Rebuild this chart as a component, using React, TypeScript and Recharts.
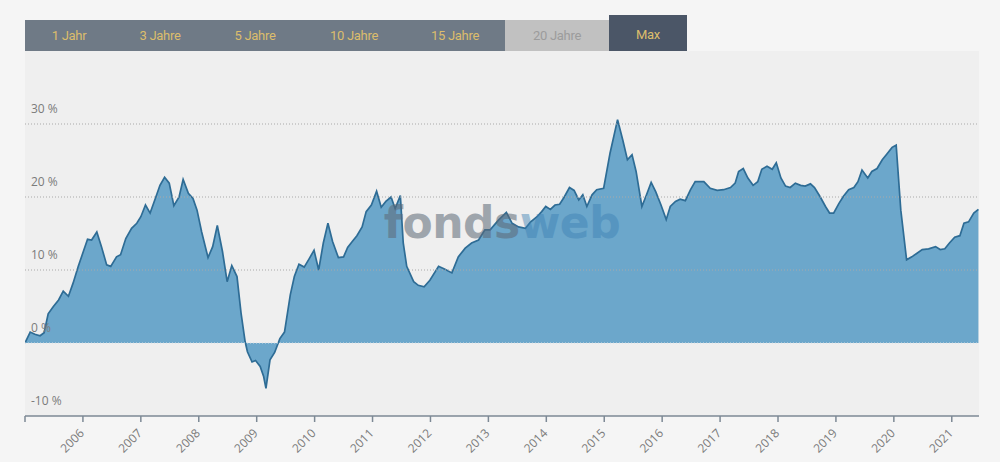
import React from "react";
import { AreaChart, Area, XAxis, YAxis, ReferenceLine, CartesianGrid } from "recharts";

// Decimal-year positions of the plotted points
const dates = [
  2005.0, 2005.09, 2005.17, 2005.26, 2005.33, 2005.4, 2005.49, 2005.58, 2005.66, 2005.75, 2005.83, 2005.92,
  2006.01, 2006.08, 2006.15, 2006.24, 2006.32, 2006.41, 2006.48, 2006.58, 2006.65, 2006.74, 2006.84, 2006.93,
  2007.0, 2007.08, 2007.16, 2007.25, 2007.33, 2007.41, 2007.49, 2007.57, 2007.66, 2007.73, 2007.82, 2007.9, 2007.97,
  2008.05, 2008.16, 2008.24, 2008.32, 2008.41, 2008.49, 2008.57, 2008.66, 2008.73, 2008.8, 2008.84, 2008.92, 2008.98,
  2009.06, 2009.12, 2009.16, 2009.23, 2009.31, 2009.4, 2009.48, 2009.58, 2009.65, 2009.73, 2009.82, 2009.91, 2009.99,
  2010.07, 2010.15, 2010.23, 2010.31, 2010.41, 2010.5, 2010.57, 2010.65, 2010.73, 2010.82, 2010.89, 2010.98,
  2011.07, 2011.15, 2011.23, 2011.32, 2011.39, 2011.48, 2011.53, 2011.59, 2011.71, 2011.79, 2011.89, 2011.99,
  2012.14, 2012.25, 2012.37, 2012.48, 2012.6, 2012.71, 2012.83, 2012.94,
  2013.03, 2013.17, 2013.31, 2013.41, 2013.52, 2013.64, 2013.73, 2013.84, 2013.92, 2013.99,
  2014.07, 2014.15, 2014.23, 2014.31, 2014.4, 2014.48, 2014.56, 2014.63, 2014.7, 2014.79, 2014.87, 2014.99,
  2015.1, 2015.23, 2015.32, 2015.4, 2015.48, 2015.55, 2015.65, 2015.73, 2015.81, 2015.89, 2015.98,
  2016.07, 2016.14, 2016.23, 2016.31, 2016.4, 2016.49, 2016.57, 2016.72, 2016.83, 2016.95,
  2017.06, 2017.18, 2017.26, 2017.32, 2017.4, 2017.48, 2017.57, 2017.65, 2017.72, 2017.81, 2017.9, 2017.97,
  2018.05, 2018.13, 2018.21, 2018.3, 2018.39, 2018.47, 2018.56, 2018.63, 2018.73, 2018.82, 2018.89, 2018.96,
  2019.05, 2019.13, 2019.22, 2019.31, 2019.38, 2019.45, 2019.55, 2019.62, 2019.71, 2019.8, 2019.88, 2019.97,
  2020.04, 2020.12, 2020.22, 2020.31, 2020.4, 2020.49, 2020.6, 2020.72, 2020.8, 2020.88, 2020.96,
  2021.05, 2021.14, 2021.21, 2021.29, 2021.38, 2021.46,
];

// Cumulative performance in percent
const returns = [
  0.0, 1.5, 1.2, 1.0, 1.4, 4.0, 5.0, 5.9, 7.1, 6.4, 8.2, 10.5,
  12.6, 14.2, 14.1, 15.2, 13.2, 10.7, 10.5, 11.8, 12.1, 14.3, 15.7, 16.4,
  17.3, 18.9, 17.8, 19.8, 21.6, 22.7, 21.9, 18.8, 20.0, 22.4, 20.5, 19.8, 18.2,
  15.2, 11.7, 13.2, 16.1, 12.5, 8.4, 10.6, 9.1, 4.1, 0.2, -1.2, -2.6, -2.4,
  -3.2, -4.6, -6.2, -2.3, -1.3, 0.6, 1.5, 6.6, 9.1, 10.8, 10.4, 11.6, 12.7,
  10.0, 13.7, 16.4, 13.9, 11.7, 11.8, 13.1, 13.9, 14.7, 15.9, 18.0, 18.9,
  20.8, 18.6, 19.4, 20.0, 18.4, 20.2, 13.7, 10.5, 8.4, 7.9, 7.7, 8.6,
  10.5, 10.1, 9.6, 11.8, 13.0, 13.7, 14.1, 15.5,
  15.5, 16.8, 17.9, 16.4, 15.9, 15.7, 16.6, 17.3, 18.0, 18.7,
  18.3, 18.9, 19.0, 20.0, 21.3, 20.9, 19.6, 20.3, 18.7, 20.3, 21.0, 21.2,
  26.0, 30.6, 27.8, 25.1, 25.8, 23.5, 18.7, 20.3, 22.0, 20.7, 18.9,
  16.9, 18.7, 19.4, 19.7, 19.5, 21.0, 22.1, 22.1, 21.2, 20.9,
  21.0, 21.3, 21.9, 23.5, 23.9, 22.6, 21.6, 22.1, 23.8, 24.2, 23.8, 24.7,
  22.6, 21.5, 21.3, 21.9, 21.6, 21.5, 21.8, 21.3, 20.0, 18.7, 17.8, 17.8,
  19.1, 20.1, 21.0, 21.3, 22.1, 23.7, 22.6, 23.5, 23.9, 25.1, 25.9, 26.8,
  27.1, 18.2, 11.4, 11.8, 12.3, 12.8, 12.9, 13.2, 12.8, 12.9, 13.7,
  14.5, 14.7, 16.4, 16.6, 17.8, 18.3,
];

const yearTicks = [2005, 2006, 2007, 2008, 2009, 2010, 2011, 2012, 2013, 2014, 2015, 2016, 2017, 2018, 2019, 2020, 2021];
const percentTicks = [-10, 0, 10, 20, 30];
const periodButtons = ["1 Jahr", "3 Jahre", "5 Jahre", "10 Jahre", "15 Jahre", "20 Jahre", "Max"];

const data = dates.map((t, i) => ({ t, v: returns[i] }));

const XTick = (props: any) => {
  const { x, y, payload } = props;
  if (payload.value === 2005) return null;
  return (
    <text
      transform={`translate(${x + 2},${y + 10}) rotate(-45)`}
      textAnchor="end"
      fill="#7b7b7b"
      fontSize={12}
      fontFamily="'Open Sans', sans-serif"
    >
      {payload.value}
    </text>
  );
};

const makeYLabel = (v: number) => (props: any) => {
  const vb = props.viewBox || {};
  return (
    <text x={(vb.x ?? 25) + 6} y={(vb.y ?? 0) - 11} fill="#7b7b7b" fontSize={12} fontFamily="'Open Sans', sans-serif">
      {v} %
    </text>
  );
};

const buttonStyles: { left: number; width: number; bg: string; color: string; top: number; height: number }[] = [
  { left: 25, width: 88, bg: "#6f7a86", color: "#dcbd6c", top: 20, height: 31 },
  { left: 113, width: 94, bg: "#6f7a86", color: "#dcbd6c", top: 20, height: 31 },
  { left: 207, width: 96, bg: "#6f7a86", color: "#dcbd6c", top: 20, height: 31 },
  { left: 303, width: 102, bg: "#6f7a86", color: "#dcbd6c", top: 20, height: 31 },
  { left: 405, width: 100, bg: "#6f7a86", color: "#dcbd6c", top: 20, height: 31 },
  { left: 505, width: 104, bg: "#c1c1c1", color: "#9c9c9c", top: 20, height: 31 },
  { left: 609, width: 78, bg: "#4b5667", color: "#dcbd6c", top: 15, height: 36 },
];

export default function App() {
  return (
    <div
      style={{
        position: "absolute",
        left: 0,
        top: 0,
        width: 1000,
        height: 462,
        background: "#f5f5f5",
        overflow: "hidden",
      }}
    >
      {periodButtons.map((label, i) => {
        const b = buttonStyles[i];
        return (
          <div
            key={label}
            style={{
              position: "absolute",
              left: b.left,
              top: b.top,
              width: b.width,
              height: b.height,
              background: b.bg,
              color: b.color,
              fontFamily: "Roboto, sans-serif",
              fontSize: 13,
              letterSpacing: -0.3,
              display: "flex",
              alignItems: "center",
              justifyContent: "center",
              paddingTop: i === 6 ? 2 : 0,
              boxSizing: "border-box",
            }}
          >
            {label}
          </div>
        );
      })}
      <div style={{ position: "absolute", left: 0, top: 0 }}>
        <AreaChart width={1000} height={462} data={data} margin={{ top: 51, right: 21, left: 25, bottom: 0 }}>
          <CartesianGrid fill="#efefef" stroke="none" horizontal={false} vertical={false} />
          <XAxis
            dataKey="t"
            type="number"
            domain={[2005, 2021.47]}
            ticks={yearTicks}
            interval={0}
            height={46}
            tick={<XTick />}
            tickSize={6}
            tickMargin={2}
            axisLine={{ stroke: "#7d8995", strokeWidth: 1.5 }}
            tickLine={{ stroke: "#7d8995", strokeWidth: 1.5 }}
            allowDataOverflow
          />
          <YAxis type="number" domain={[-10, 40]} ticks={percentTicks} hide allowDataOverflow />
          <Area
            type="linear"
            dataKey="v"
            baseValue={0}
            stroke="#2e6c95"
            strokeWidth={1.7}
            fill="#6ca7cb"
            fillOpacity={1}
            isAnimationActive={false}
            dot={false}
            activeDot={false}
          />
          {percentTicks.map((g) => (
            <ReferenceLine
              key={g}
              y={g}
              stroke={g === -10 ? "none" : g === 0 ? "#d5dde3" : "#a9a9a9"}
              strokeDasharray="1 2"
              strokeWidth={1}
              ifOverflow="visible"
              label={makeYLabel(g)}
            />
          ))}
        </AreaChart>
      </div>
      <div
        style={{
          position: "absolute",
          left: 2,
          width: 1000,
          top: 193,
          textAlign: "center",
          fontFamily: "'DejaVu Sans', sans-serif",
          fontWeight: 700,
          fontSize: 44,
          letterSpacing: -0.5,
          pointerEvents: "none",
          lineHeight: "60px",
        }}
      >
        <span style={{ color: "#5d6977", opacity: 0.55 }}>fonds</span>
        <span style={{ color: "#3c80b3", opacity: 0.45 }}>web</span>
      </div>
    </div>
  );
}
